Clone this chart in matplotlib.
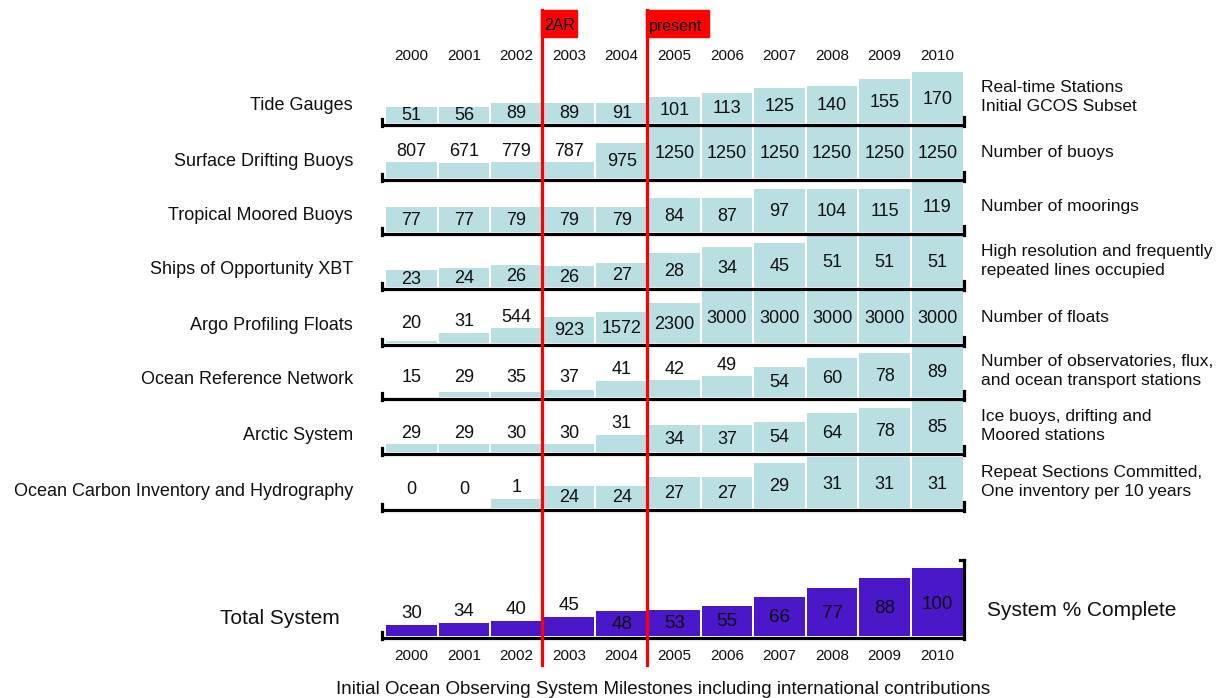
import matplotlib
matplotlib.use("Agg")
import matplotlib.pyplot as plt
from matplotlib.patches import Rectangle

plt.rcParams['font.family'] = ['Liberation Sans', 'DejaVu Sans']

years = [2000, 2001, 2002, 2003, 2004, 2005, 2006, 2007, 2008, 2009, 2010]

row_names = ["Tide Gauges", "Surface Drifting Buoys", "Tropical Moored Buoys",
             "Ships of Opportunity XBT", "Argo Profiling Floats",
             "Ocean Reference Network", "Arctic System",
             "Ocean Carbon Inventory and Hydrography"]
row_notes = ["Real-time Stations\nInitial GCOS Subset",
             "Number of buoys",
             "Number of moorings",
             "High resolution and frequently\nrepeated lines occupied",
             "Number of floats",
             "Number of observatories, flux,\nand ocean transport stations",
             "Ice buoys, drifting and\nMoored stations",
             "Repeat Sections Committed,\nOne inventory per 10 years"]

# values printed in each cell
tide = [51, 56, 89, 89, 91, 101, 113, 125, 140, 155, 170]
drifters = [807, 671, 779, 787, 975, 1250, 1250, 1250, 1250, 1250, 1250]
moorings = [77, 77, 79, 79, 79, 84, 87, 97, 104, 115, 119]
xbt = [23, 24, 26, 26, 27, 28, 34, 45, 51, 51, 51]
argo = [20, 31, 544, 923, 1572, 2300, 3000, 3000, 3000, 3000, 3000]
ref_net = [15, 29, 35, 37, 41, 42, 49, 54, 60, 78, 89]
arctic = [29, 29, 30, 30, 31, 34, 37, 54, 64, 78, 85]
carbon = [0, 0, 1, 24, 24, 27, 27, 29, 31, 31, 31]
total = [30, 34, 40, 45, 48, 53, 55, 66, 77, 88, 100]

# drawn bar level of each cell (the original is not to scale)
tide_lvl = [16, 16, 20, 20, 20, 26, 30, 35, 37, 44, 51]
drifters_lvl = [16, 15, 16, 16, 35, 53, 53, 53, 53, 53, 53]
moorings_lvl = [25, 25, 25, 25, 25, 34, 34, 43, 43, 43, 52]
xbt_lvl = [17, 19, 22, 21, 24, 34, 40, 44, 52, 52, 52]
argo_lvl = [2, 10, 15, 26, 31, 40, 52, 52, 52, 52, 52]
ref_net_lvl = [0, 5, 5, 7, 16, 17, 21, 30, 39, 44, 52]
arctic_lvl = [8, 8, 8, 8, 17, 27, 27, 30, 39, 44, 52]
carbon_lvl = [0, 0, 9, 22, 22, 31, 31, 45, 51, 51, 51]
total_lvl = [11, 13, 15, 19, 25, 26, 30, 39, 48, 58, 68]

rows = [(tide, tide_lvl), (drifters, drifters_lvl), (moorings, moorings_lvl),
        (xbt, xbt_lvl), (argo, argo_lvl), (ref_net, ref_net_lvl),
        (arctic, arctic_lvl), (carbon, carbon_lvl)]

# cells whose number sits above the bar instead of inside it
above = [[], [0, 1, 2, 3], [], [], [0, 1, 2], [0, 1, 2, 3, 4, 5, 6],
         [0, 1, 2, 3, 4], [0, 1, 2]]
total_above = [0, 1, 2, 3]

milestones = [(2.5, "2AR"), (4.5, "present")]

# layout (pixel units of the 1222x698 canvas)
x0, colw = 385, 52.6
baselines = [123, 178, 232, 287, 343, 397, 452, 508]
total_base = 636
light = "#b9dfe2"
purple = "#4a18c8"

fig = plt.figure(figsize=(12.22, 6.98), dpi=100)
ax = fig.add_axes([0, 0, 1, 1])
ax.set_xlim(0, 1222)
ax.set_ylim(698, 0)
ax.axis('off')

xc = [x0 + colw * (i + 0.5) for i in range(len(years))]
xr = x0 + colw * len(years)


def cell_labels(vals, lvl, base, up, fs=13):
    for i, (v, h) in enumerate(zip(vals, lvl)):
        if i in up:
            y = base - max(h + 11, 19)
        else:
            y = base - 0.47 * h
        ax.text(xc[i], y, str(v), ha='center', va='center', fontsize=fs,
                color='#111111', zorder=4)


def base_line(base, right_hook=6):
    ax.plot([x0 - 4, xr + 1], [base + 1.5, base + 1.5], color='black',
            lw=2.3, solid_capstyle='butt', zorder=3)
    ax.plot([x0 - 3, x0 - 3], [base - 4, base + 2.5], color='black',
            lw=2.3, zorder=3)
    ax.plot([xr, xr], [base - right_hook, base + 2.5], color='black',
            lw=2.3, zorder=3)


for k, ((vals, lvl), base) in enumerate(zip(rows, baselines)):
    ax.bar(xc, [-h for h in lvl], bottom=base, width=colw - 2,
           color=light, linewidth=0, zorder=1)
    base_line(base)
    cell_labels(vals, lvl, base, above[k])
    ax.text(353, base - 17, row_names[k], ha='right', va='center',
            fontsize=13, color='#111111')
    ax.text(981, base - 26, row_notes[k], ha='left', va='center',
            fontsize=12.5, color='#111111', linespacing=1.3)

# total system
ax.bar(xc, [-h for h in total_lvl], bottom=total_base, width=colw - 2,
       color=purple, linewidth=0, zorder=1)
base_line(total_base, right_hook=76)
ax.plot([xr - 4, xr], [total_base - 76, total_base - 76], color='black',
        lw=2.3, zorder=3)
cell_labels(total, total_lvl, total_base, total_above, fs=13.5)
ax.text(340, 618, "Total System", ha='right', va='center', fontsize=15,
        color='#111111')
ax.text(987, 610, "System % Complete", ha='left', va='center', fontsize=15,
        color='#111111')

# year labels top and bottom
for i, yr in enumerate(years):
    ax.text(xc[i], 56, str(yr), ha='center', va='center', fontsize=11,
            color='#111111')
    ax.text(xc[i], 656, str(yr), ha='center', va='center', fontsize=11,
            color='#111111')

# milestone lines
for pos, lab in milestones:
    xm = x0 + colw * (pos + 0.5) - 1
    ax.plot([xm, xm], [10, 665], color='#ff0000', lw=2.3, zorder=5)
    w = 36 if lab == "2AR" else 63
    ax.add_patch(Rectangle((xm - 1, 10), w, 27, color='#ff0000', zorder=5))
    ax.text(xm + 2, 26, lab, ha='left', va='center', fontsize=11.5,
            color='black', zorder=6)

ax.text(663, 689, "Initial Ocean Observing System Milestones including "
        "international contributions", ha='center', va='center',
        fontsize=13.5, color='#111111')

fig.savefig("out.png", dpi=100)
